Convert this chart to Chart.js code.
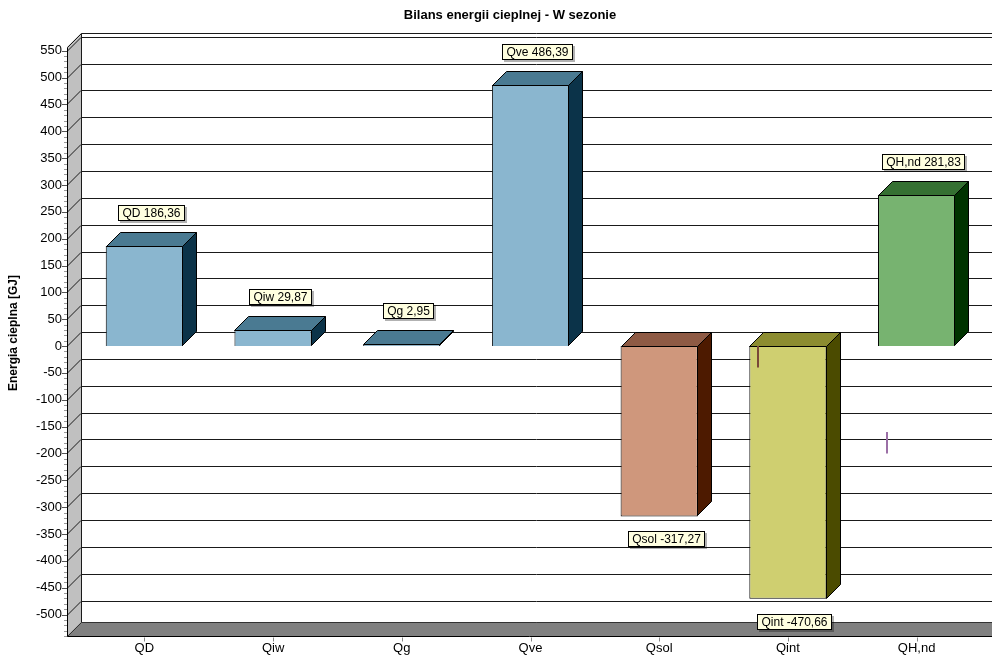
<!DOCTYPE html>
<html>
<head>
<meta charset="utf-8">
<script src="https://cdn.jsdelivr.net/npm/chart.js@4.4.1/dist/chart.umd.min.js"></script>
<style>
  html, body { margin: 0; padding: 0; background: #fff; }
  canvas { display: block; }
</style>
</head>
<body>
<canvas id="bilans" width="992" height="663"></canvas>
<script>
// heat balance components [GJ]
const categories = ["QD", "Qiw", "Qg", "Qve", "Qsol", "Qint", "QH,nd"];
const values = [186.36, 29.87, 2.95, 486.39, -317.27, -470.66, 281.83];

// value axis
const yMin = -540;
const yMax = 557;
const yTicks = [-500, -450, -400, -350, -300, -250, -200, -150, -100, -50,
                0, 50, 100, 150, 200, 250, 300, 350, 400, 450, 500, 550];
const yMinorStep = 10;

// short vertical strokes sitting on two of the columns
const stubCats = ["Qint", "QH,nd"];
const stubFrom = [0, -160];
const stubTo = [-40, -200];
const stubColors = ["#7a4838", "#9b6fa6"];

// face colours: front / top / side
const frontColors = ["#8ab6cf", "#8ab6cf", "#8ab6cf", "#8ab6cf", "#cf977c", "#cfcf70", "#77b370"];
const topColors   = ["#4a7a92", "#4a7a92", "#4a7a92", "#4a7a92", "#8e5a44", "#8c8c30", "#357032"];
const sideColors  = ["#0b3349", "#0b3349", "#0b3349", "#0b3349", "#4d1a00", "#4b4b00", "#003300"];

const DEPTH = 14;        // 3D offset (right and up)
const FONT = "Arial, 'Liberation Sans', sans-serif";

function fmt(v) {
  return v.toFixed(2).replace(".", ",");
}

/* ================= WALLS, FLOOR, GRID ================= */

const walls = {
  id: "walls",
  beforeDatasetsDraw(chart) {
    const { ctx, chartArea, scales } = chart;
    const y = scales.y;
    const fx = chartArea.left - 13;      // front axis
    const bx = fx + DEPTH;               // back wall
    const top = chartArea.top;
    const bot = chartArea.bottom;
    const W = chart.width;

    ctx.save();

    // left wall
    ctx.fillStyle = "#c0c0c0";
    ctx.beginPath();
    ctx.moveTo(fx, top);
    ctx.lineTo(bx, top - DEPTH);
    ctx.lineTo(bx, bot - DEPTH);
    ctx.lineTo(fx, bot);
    ctx.closePath();
    ctx.fill();

    // floor
    ctx.fillStyle = "#808080";
    ctx.beginPath();
    ctx.moveTo(fx, bot);
    ctx.lineTo(bx, bot - DEPTH);
    ctx.lineTo(W, bot - DEPTH);
    ctx.lineTo(W, bot);
    ctx.closePath();
    ctx.fill();

    // grid lines on the back wall + diagonals across the left wall
    ctx.lineWidth = 1;
    ctx.strokeStyle = "#1a1a1a";
    yTicks.forEach(v => {
      const py = Math.round(y.getPixelForValue(v)) + 0.5;
      ctx.beginPath();
      ctx.moveTo(fx, py);
      ctx.lineTo(bx, py - DEPTH);
      ctx.lineTo(W, py - DEPTH);
      ctx.stroke();
    });

    // outline of the walls
    const t = Math.round(top) + 0.5;
    const b = Math.round(bot) + 0.5;
    ctx.beginPath();
    ctx.moveTo(fx + 0.5, t);
    ctx.lineTo(bx + 0.5, t - DEPTH);
    ctx.lineTo(W, t - DEPTH);
    ctx.moveTo(bx + 0.5, t - DEPTH);
    ctx.lineTo(bx + 0.5, b - DEPTH);
    ctx.stroke();

    ctx.strokeStyle = "#333";
    ctx.beginPath();
    ctx.moveTo(fx + 0.5, b);
    ctx.lineTo(bx + 0.5, b - DEPTH);
    ctx.lineTo(W, b - DEPTH);
    ctx.stroke();

    ctx.strokeStyle = "#000";
    ctx.beginPath();
    ctx.moveTo(fx + 0.5, t);
    ctx.lineTo(fx + 0.5, b);
    ctx.lineTo(W, b);
    ctx.stroke();

    // minor and major ticks on the value axis
    for (let v = yMin; v <= yMax; v += yMinorStep) {
      const py = Math.round(y.getPixelForValue(v)) + 0.5;
      const major = yTicks.includes(v);
      ctx.strokeStyle = major ? "#555" : "#999";
      ctx.beginPath();
      ctx.moveTo(fx - (major ? 5 : 3), py);
      ctx.lineTo(fx, py);
      ctx.stroke();
    }

    // category ticks under the floor
    ctx.strokeStyle = "#888";
    categories.forEach((c, i) => {
      const px = Math.round(scales.x.getPixelForValue(i)) + 0.5;
      ctx.beginPath();
      ctx.moveTo(px, b + 1);
      ctx.lineTo(px, b + 5);
      ctx.stroke();
    });

    // title and axis title
    ctx.fillStyle = "#000";
    ctx.font = "bold 13px " + FONT;
    ctx.textAlign = "center";
    ctx.textBaseline = "middle";
    ctx.fillText("Bilans energii cieplnej - W sezonie", 510, 15);

    ctx.save();
    ctx.translate(14, 333);
    ctx.rotate(-Math.PI / 2);
    ctx.font = "bold 12px " + FONT;
    ctx.fillText("Energia cieplna [GJ]", 0, 0);
    ctx.restore();

    ctx.restore();
  }
};

/* ================= 3D FACES AND VALUE LABELS ================= */

const faces = {
  id: "faces",
  afterDatasetsDraw(chart) {
    const { ctx, scales } = chart;
    const meta = chart.getDatasetMeta(0);

    ctx.save();
    ctx.lineWidth = 1;
    ctx.strokeStyle = "#000";
    ctx.lineJoin = "miter";

    meta.data.forEach((el, i) => {
      const l = Math.round(el.x - el.width / 2) + 0.5;
      const r = Math.round(el.x + el.width / 2) - 0.5;
      const t = Math.round(Math.min(el.y, el.base)) + 0.5;
      const b = Math.round(Math.max(el.y, el.base)) - 0.5;

      // side face
      ctx.fillStyle = sideColors[i];
      ctx.beginPath();
      ctx.moveTo(r, t);
      ctx.lineTo(r + DEPTH, t - DEPTH);
      ctx.lineTo(r + DEPTH, b - DEPTH);
      ctx.lineTo(r, b);
      ctx.closePath();
      ctx.fill();
      ctx.stroke();

      // top face
      ctx.fillStyle = topColors[i];
      ctx.beginPath();
      ctx.moveTo(l, t);
      ctx.lineTo(l + DEPTH, t - DEPTH);
      ctx.lineTo(r + DEPTH, t - DEPTH);
      ctx.lineTo(r, t);
      ctx.closePath();
      ctx.fill();
      ctx.stroke();
    });

    // thin strokes
    ctx.lineWidth = 2;
    stubCats.forEach((c, k) => {
      const el = meta.data[categories.indexOf(c)];
      const px = Math.round(el.x - el.width / 2) + 9;
      ctx.strokeStyle = stubColors[k];
      ctx.beginPath();
      ctx.moveTo(px, scales.y.getPixelForValue(stubFrom[k]));
      ctx.lineTo(px, scales.y.getPixelForValue(stubTo[k]));
      ctx.stroke();
    });

    // value labels
    ctx.font = "12px " + FONT;
    ctx.textAlign = "center";
    ctx.textBaseline = "middle";
    ctx.lineWidth = 1;
    meta.data.forEach((el, i) => {
      const text = categories[i] + " " + fmt(values[i]);
      const w = Math.ceil(ctx.measureText(text).width) + 8;
      const h = 16;
      const cx = el.x + 7;
      let by;
      if (values[i] >= 0) {
        by = Math.round(el.y) - DEPTH - 11 - h;
      } else {
        by = Math.round(el.y) + 15;
      }
      const bxL = Math.round(cx - w / 2);

      ctx.fillStyle = "rgba(0,0,0,0.3)";
      ctx.fillRect(bxL + 2, by + 2, w, h);
      ctx.fillStyle = "#ffffe0";
      ctx.fillRect(bxL, by, w, h);
      ctx.strokeStyle = "#000";
      ctx.strokeRect(bxL + 0.5, by + 0.5, w - 1, h - 1);
      ctx.fillStyle = "#000";
      ctx.fillText(text, bxL + w / 2, by + h / 2 + 0.5);
    });

    ctx.restore();
  }
};

/* ================= CHART ================= */

new Chart(document.getElementById("bilans"), {
  type: "bar",
  data: {
    labels: categories,
    datasets: [{
      data: values,
      backgroundColor: frontColors,
      borderColor: "#000",
      borderWidth: 1,
      barPercentage: 0.6,
      categoryPercentage: 1
    }]
  },
  options: {
    responsive: false,
    devicePixelRatio: 1,
    animation: false,
    layout: { padding: { left: 0, right: 11, top: 47, bottom: 0 } },
    plugins: {
      legend: { display: false },
      tooltip: { enabled: false },
      title: { display: false }
    },
    scales: {
      x: {
        grid: { display: false, drawTicks: false },
        border: { display: false },
        ticks: {
          color: "#000",
          font: { family: FONT, size: 13 },
          padding: 5,
          maxRotation: 0,
          autoSkip: false
        },
        afterFit(scale) { scale.height = 27; }
      },
      y: {
        min: yMin,
        max: yMax,
        grid: { display: false, drawTicks: false },
        border: { display: false },
        ticks: {
          color: "#000",
          font: { family: FONT, size: 13 },
          padding: 18,
          autoSkip: false
        },
        afterBuildTicks(scale) {
          scale.ticks = yTicks.map(v => ({ value: v }));
        },
        afterFit(scale) { scale.width = 80; }
      }
    }
  },
  plugins: [walls, faces]
});
</script>
</body>
</html>
